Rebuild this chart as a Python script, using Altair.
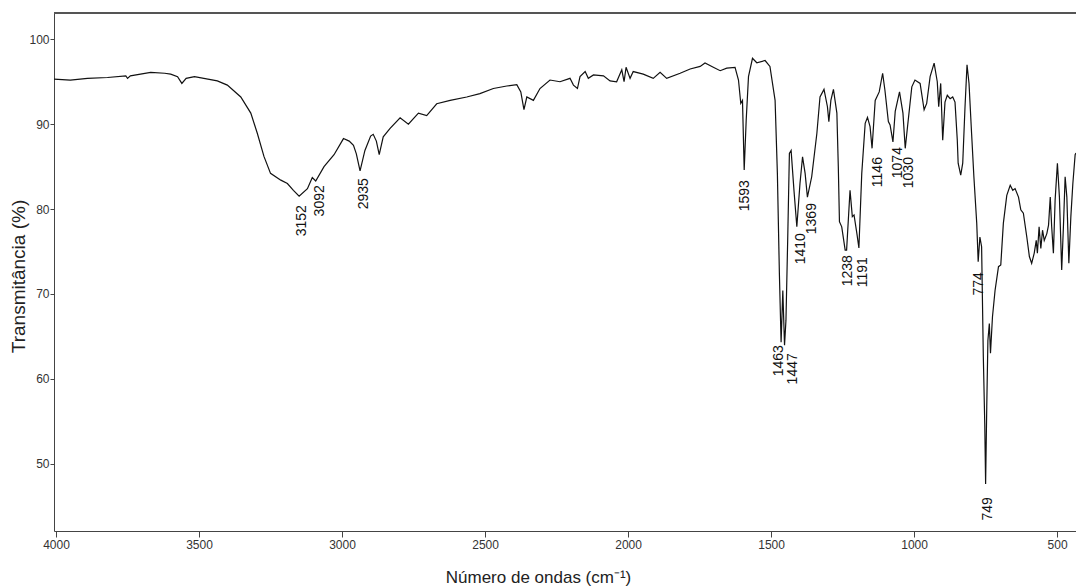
import altair as alt
import pandas as pd

# Spectrum (wavenumber in cm-1, transmittance in %)
wavenumber = [4007, 3950, 3890, 3820, 3756, 3750, 3740, 3669, 3620, 3599, 3575, 3560, 3545, 3516,
              3436, 3401, 3354, 3319, 3296, 3273, 3250, 3214, 3191, 3170, 3150, 3121, 3104, 3092,
              3063, 3028, 2995, 2975, 2960, 2950, 2937, 2920, 2900, 2891, 2880, 2870, 2856, 2832,
              2797, 2768, 2733, 2704, 2669, 2622, 2564, 2518, 2471, 2424, 2389, 2375, 2364, 2354,
              2331, 2308, 2273, 2238, 2203, 2191, 2177, 2168, 2150, 2139, 2121, 2086, 2063, 2040,
              2022, 2014, 2007, 1993, 1982, 1947, 1912, 1888, 1865, 1818, 1783, 1748, 1731, 1702,
              1678, 1655, 1626, 1614, 1606, 1600, 1594, 1587, 1579, 1565, 1550, 1521, 1504, 1486,
              1478, 1471, 1465, 1459, 1453, 1448, 1442, 1436, 1430, 1420, 1410, 1399, 1390, 1381,
              1373, 1358, 1340, 1329, 1315, 1303, 1298, 1291, 1282, 1270, 1265, 1261, 1253, 1241,
              1236, 1230, 1224, 1216, 1210, 1200, 1193, 1183, 1171, 1163, 1154, 1147, 1136, 1122,
              1110, 1102, 1090, 1084, 1074, 1066, 1051, 1039, 1031, 1023, 1008, 997, 979, 965,
              956, 944, 930, 919, 914, 907, 900, 892, 884, 874, 865, 857, 849, 846, 837, 830, 822,
              815, 808, 799, 791, 781, 776, 770, 764, 758, 753, 750, 746, 742, 737, 733, 726, 717,
              705, 697, 688, 676, 664, 655, 647, 635, 627, 618, 606, 597, 589, 580, 573, 569, 563,
              557, 551, 545, 536, 530, 524, 519, 513, 507, 499, 492, 484, 478, 472, 466, 459, 452,
              445, 437, 434]
transmittance = [95.3, 95.2, 95.4, 95.5, 95.7, 95.4, 95.7, 96.1, 96.0, 95.9, 95.6, 94.8, 95.4, 95.6,
                 95.1, 94.6, 93.2, 91.3, 88.9, 86.2, 84.2, 83.4, 83.0, 82.2, 81.5, 82.4, 83.7, 83.3,
                 85.0, 86.4, 88.3, 88.0, 87.5, 86.5, 84.5, 86.9, 88.6, 88.8, 88.0, 86.4, 88.5, 89.5,
                 90.75, 90.0, 91.3, 91.0, 92.4, 92.8, 93.2, 93.6, 94.2, 94.5, 94.65, 93.8, 91.7, 93.2,
                 92.8, 94.2, 95.2, 95.0, 95.4, 94.6, 94.2, 95.6, 96.2, 95.4, 95.8, 95.7, 95.1, 95.0,
                 96.4, 95.0, 96.7, 95.4, 96.2, 95.9, 95.4, 96.1, 95.4, 96.0, 96.5, 96.8, 97.2, 96.7,
                 96.3, 96.6, 96.7, 95.2, 92.45, 92.8, 84.6, 90.5, 95.6, 97.76, 97.24, 97.5, 96.8, 92.8,
                 84.2, 72.4, 64.3, 70.4, 63.95, 66.9, 76.3, 86.55, 86.9, 82.2, 77.9, 83.0, 86.15, 84.2,
                 81.4, 83.8, 88.9, 93.2, 94.1, 92.05, 90.3, 92.8, 94.1, 91.3, 85.0, 78.5, 77.9, 75.15,
                 75.15, 78.7, 82.2, 79.1, 79.3, 77.1, 75.4, 84.2, 90.1, 90.8, 89.7, 87.15, 92.8, 93.8,
                 96.0, 94.0, 90.3, 89.9, 87.9, 91.5, 93.8, 91.3, 87.15, 89.7, 94.4, 95.2, 94.8, 91.7,
                 92.45, 95.6, 97.2, 95.0, 92.05, 94.8, 88.1, 92.6, 93.4, 93.0, 93.2, 92.6, 88.1, 85.4, 84.0, 85.4, 92.05,
                 97.0, 94.8, 88.9, 83.8, 78.3, 73.8, 76.7, 75.55, 62.6, 54.7, 47.6, 56.7, 64.5, 66.5, 63.0, 67.3, 70.4,
                 73.2, 73.4, 78.3, 81.6, 82.8, 82.2, 82.4, 81.4, 79.9, 79.5, 76.7, 74.4, 73.6, 74.8, 76.3, 74.8, 77.9,
                 75.35, 77.5, 76.3, 77.1, 78.1, 81.4, 77.9, 74.8, 81.05, 85.4, 81.4, 72.8, 77.9, 83.8, 81.4, 73.6, 79.1,
                 83.0, 86.4, 86.6]

# Peak annotations
peak_labels = ["3152", "3092", "2935", "1593", "1463", "1447", "1410", "1369", "1238", "1191",
               "1146", "1074", "1030", "774", "749"]
peak_label_x = [3140, 3077, 2923, 1591, 1472, 1423, 1395, 1357, 1231, 1178, 1126, 1056, 1017, 773, 741]
peak_label_y = [80.46, 82.8, 83.64, 83.4, 63.95, 63.0, 77.16, 80.7, 74.56, 74.33, 86.12, 87.3, 86.12,
                72.56, 46.03]

x_ticks = [4000, 3500, 3000, 2500, 2000, 1500, 1000, 500]
y_ticks = [50, 60, 70, 80, 90, 100]

FONT = "Liberation Sans"

spec = pd.DataFrame({"wn": wavenumber, "t": transmittance})
ann = pd.DataFrame({"label": peak_labels, "wn": peak_label_x, "t": peak_label_y})

xscale = alt.Scale(domain=[434, 4007], reverse=True, nice=False, zero=False)
yscale = alt.Scale(domain=[42.05, 103.1], nice=False, zero=False)

xaxis = alt.Axis(values=x_ticks, format="d", grid=False, tickSize=6, labelPadding=2,
                 labelFontSize=12, labelFont=FONT, labelColor="#333", domainColor="#444",
                 tickColor="#444", title="Número de ondas (cm⁻¹)", titleFont=FONT,
                 titleFontSize=17, titleFontWeight="normal", titleColor="#222",
                 titleX=484, titleY=46, titleBaseline="middle", titleAlign="center",
                 labelFlush=False)
yaxis = alt.Axis(values=y_ticks, format="d", grid=False, tickSize=4, labelPadding=1,
                 labelFontSize=12, labelFont=FONT, labelColor="#333", domainColor="#444",
                 tickColor="#444", title="Transmitância (%)", titleFont=FONT,
                 titleFontSize=19, titleFontWeight="normal", titleColor="#222",
                 titleAngle=270, titleX=-36, titleY=263, titleBaseline="middle",
                 titleAlign="center")

line = alt.Chart(spec).mark_line(color="#111", strokeWidth=1.2).encode(
    x=alt.X("wn:Q", scale=xscale, axis=xaxis),
    y=alt.Y("t:Q", scale=yscale, axis=yaxis),
    order=alt.Order("wn:Q", sort="descending"),
)

text = alt.Chart(ann).mark_text(angle=270, align="right", baseline="middle", fontSize=14,
                                font=FONT, color="#111").encode(
    x=alt.X("wn:Q", scale=xscale),
    y=alt.Y("t:Q", scale=yscale),
    text="label:N",
)

# top frame line of the plot area (the right side is cut off in the reference)
top_border = alt.Chart(pd.DataFrame({"k": [0]})).mark_rule(color="#555", strokeWidth=2).encode(
    x=alt.value(0), x2=alt.value(1022), y=alt.value(0)
)

chart = alt.layer(line, text, top_border).properties(
    width=1022, height=518,
    autosize=alt.AutoSizeParams(type="none"),
    padding={"left": 54, "top": 13, "right": 0, "bottom": 57},
    background="white",
).configure_view(strokeWidth=0)

chart.save("out.html", embed_options={"renderer": "svg", "actions": False})
